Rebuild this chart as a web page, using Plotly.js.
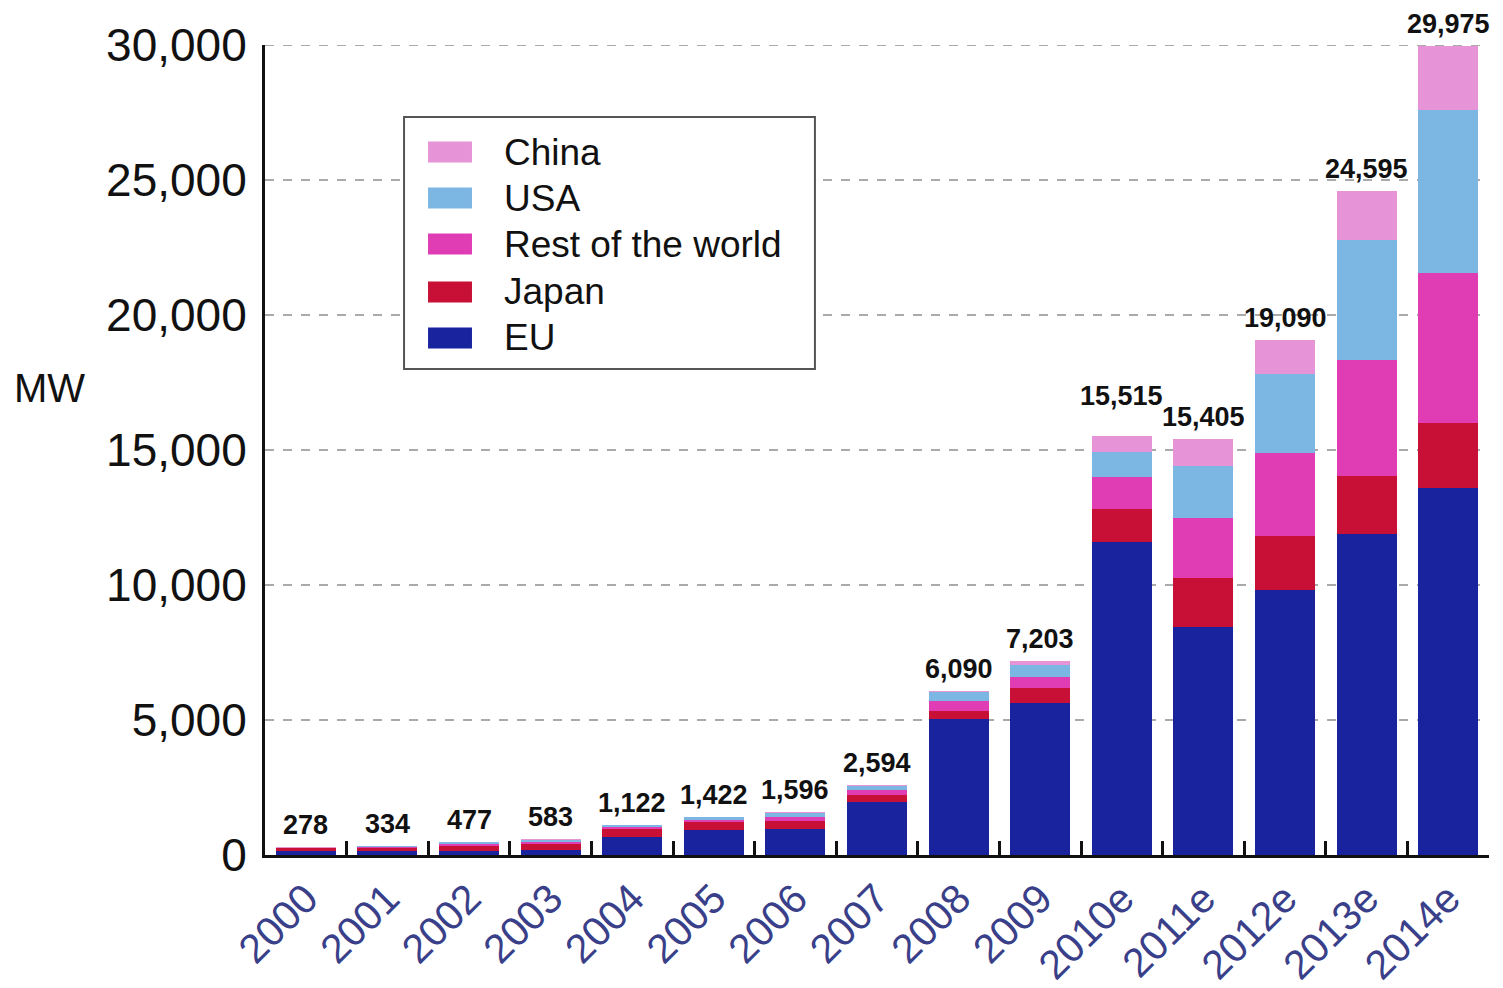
<!DOCTYPE html>
<html>
<head>
<meta charset="utf-8">
<script src="https://cdn.plot.ly/plotly-3.0.1.min.js"></script>
<style>html,body{margin:0;padding:0;background:#fff;}#chart{width:1503px;height:988px;}</style>
</head>
<body>
<div id="chart"></div>
<script>
// Categories (years; "e" = estimate)
const years = ["2000","2001","2002","2003","2004","2005","2006","2007","2008","2009","2010e","2011e","2012e","2013e","2014e"];

// Annual values in MW
const eu    = [130, 135, 150, 200, 680, 930, 960, 1970, 5050, 5620, 11600, 8440, 9800, 11900, 13600];
const japan = [120, 135, 185, 223, 290, 300, 300,  250,  300,  550,  1200, 1820, 2000,  2150,  2400];
const rest  = [ 15,  30,  68,  65,  50,  80, 150,  180,  350,  430,  1200, 2220, 3100,  4270,  5550];
const usa   = [ 10,  29,  64,  85,  90, 100, 150,  160,  340,  430,   930, 1930, 2920,  4450,  6050];
const china = [  3,   5,  10,  10,  12,  12,  36,   34,   50,  173,   585,  995, 1270,  1825,  2375];

// Total labels shown above the bars
const totalLabels = ["278","334","477","583","1,122","1,422","1,596","2,594","6,090","7,203","15,515","15,405","19,090","24,595","29,975"];

// Y tick values
const yTicks = [0, 5000, 10000, 15000, 20000, 25000, 30000];

const seriesNames = ["EU","Japan","Rest of the world","USA","China"];
const seriesData = [eu, japan, rest, usa, china];
const seriesColors = ["#1a239e","#c80f35","#e03cb4","#7cb6e2","#e693d8"];

const FONT = "Arial, Liberation Sans, sans-serif";

const traces = seriesData.map((vals, i) => ({
  type: "bar",
  name: seriesNames[i],
  x: years,
  y: vals,
  marker: {color: seriesColors[i], line: {width: 0}},
  showlegend: false
}));

const totals = years.map((_, j) => seriesData.reduce((s, arr) => s + arr[j], 0));

// Lift a label that would collide with its right-hand neighbour's label
const annotations = years.map((yr, j) => {
  const next = j + 1 < years.length ? totals[j + 1] : -Infinity;
  const lift = Math.abs(next - totals[j]) < 400 && totals[j] > next ? 18 : 0;
  return {
    x: j, y: totals[j], xref: "x", yref: "y",
    text: "<b>" + totalLabels[j] + "</b>", showarrow: false,
    yanchor: "bottom", yshift: 5 + lift,
    font: {family: FONT, size: 27, color: "#111"}
  };
});
annotations.push({
  xref: "paper", yref: "paper", x: -0.176, y: 0.577,
  text: "MW", showarrow: false, xanchor: "center", yanchor: "middle",
  font: {family: FONT, size: 40, color: "#111"}
});

const shapes = [];
// dashed gridline along the top value of the axis
shapes.push({type: "line", xref: "paper", yref: "y", x0: 0, x1: 1,
  y0: yTicks[yTicks.length - 1], y1: yTicks[yTicks.length - 1],
  line: {color: "#aaaaaa", width: 2, dash: "dash"}, layer: "below"});

// Custom legend (box, swatches, labels) in paper coordinates
const lgX0 = 0.1136, lgX1 = 0.4493, lgY0 = 0.6000, lgY1 = 0.9111;
shapes.push({type: "rect", xref: "paper", yref: "paper", x0: lgX0, x1: lgX1, y0: lgY0, y1: lgY1,
  fillcolor: "#fff", line: {color: "#555", width: 2}, layer: "above"});
const legendOrder = [4, 3, 2, 1, 0];
const rowY = [0.8679, 0.8111, 0.7543, 0.6951, 0.6383];
legendOrder.forEach((si, r) => {
  shapes.push({type: "rect", xref: "paper", yref: "paper",
    x0: 0.1332, x1: 0.1691, y0: rowY[r] - 0.0130, y1: rowY[r] + 0.0130,
    fillcolor: seriesColors[si], line: {width: 0}, layer: "above"});
  annotations.push({xref: "paper", yref: "paper", x: 0.1940, y: rowY[r],
    text: seriesNames[si], showarrow: false, xanchor: "left", yanchor: "middle",
    font: {family: FONT, size: 37, color: "#111"}});
});

const layout = {
  width: 1503, height: 988,
  margin: {l: 265, r: 14, t: 45, b: 133, pad: 0},
  paper_bgcolor: "#fff", plot_bgcolor: "#fff",
  barmode: "stack",
  bargap: 0.265,
  showlegend: false,
  xaxis: {
    type: "category",
    range: [-0.5, 14.5],
    tickangle: -45,
    ticks: "inside", tickson: "boundaries", ticklen: 14, tickwidth: 3, tickcolor: "#111",
    showline: true, linewidth: 3, linecolor: "#111",
    showgrid: false,
    tickfont: {family: FONT, size: 41, color: "#3a3f8a"}
  },
  yaxis: {
    range: [0, 30000],
    tickvals: yTicks,
    tickformat: ",",
    ticks: "", ticklabelstandoff: 6,
    showline: true, linewidth: 3, linecolor: "#111",
    showgrid: true, gridcolor: "#aaaaaa", gridwidth: 2, griddash: "dash",
    zeroline: false,
    tickfont: {family: FONT, size: 46, color: "#111"}
  },
  shapes: shapes,
  annotations: annotations
};

Plotly.newPlot("chart", traces, layout, {displayModeBar: false, staticPlot: true});
</script>
</body>
</html>
